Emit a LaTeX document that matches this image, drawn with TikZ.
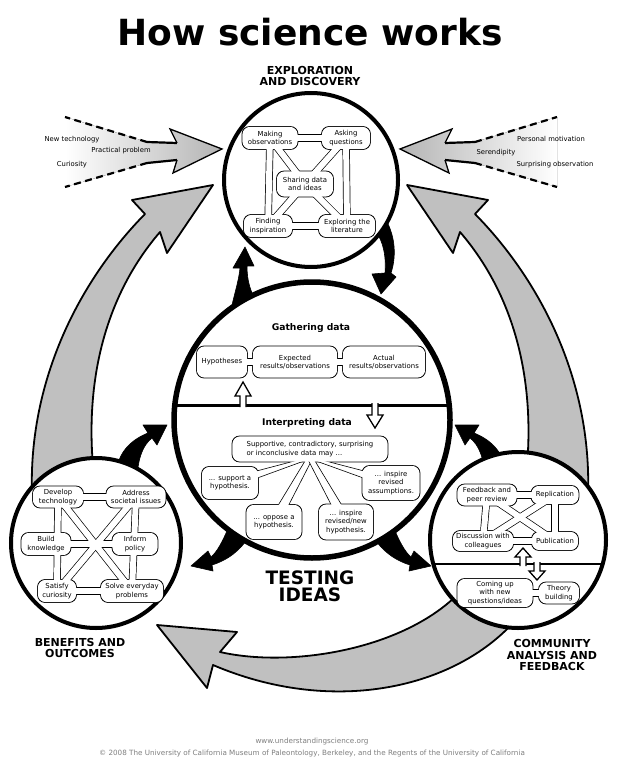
\documentclass[tikz,border=0pt]{standalone}
\usepackage{fontspec}
\setmainfont{DejaVu Sans}
\usepackage{tikz}
\definecolor{arrowgray}{HTML}{C0C0C0}
\definecolor{fadegray}{HTML}{B4B4B4}
\definecolor{footgray}{HTML}{7F7F7F}
\pgfdeclarelayer{back}
\pgfdeclarelayer{pipes}
\pgfsetlayers{back,pipes,main}
\newcommand{\hollowarrow}[4]{%
  \fill[white] (#1-3,#2) -- (#1-3,#3) -- (#1-8,#3) -- (#1,#4) -- (#1+8,#3) -- (#1+3,#3) -- (#1+3,#2) -- cycle;
  \draw[line width=1.3pt] (#1-3,#2) -- (#1-3,#3) -- (#1-8,#3) -- (#1,#4) -- (#1+8,#3) -- (#1+3,#3) -- (#1+3,#2);}
\newcommand{\boxlist}{mko,ask,shr,fin,exl,hyp,exp,act,sup,spt,opp,rnh,ras,dev,adr,bld,inf,sat,slv,fbk,rep,dis,pub,cmu,thb}
\newcommand{\pipelist}{mko/ask,fin/exl,mko/fin,ask/exl,mko/shr,ask/shr,fin/shr,exl/shr,hyp/exp,exp/act,dev/adr,sat/slv,bld/inf,dev/sat,adr/slv,dev/slv,adr/sat,fbk/rep,dis/pub,fbk/dis,rep/pub,fbk/pub,rep/dis,cmu/thb}

\begin{document}
\begin{tikzpicture}[x=1pt, y=-1pt,
    ring/.style={circle, draw, fill=white, inner sep=0pt},
    box/.style={inner sep=0pt, align=center, font=\fontsize{6.9}{8.2}\selectfont},
    tag/.style={inner sep=0pt, font=\fontsize{6.8}{8.2}\selectfont},
    head/.style={align=center, font=\fontsize{11}{11.5}\selectfont\bfseries},
    sub/.style={font=\fontsize{9.2}{10}\selectfont\bfseries},
    bigarrow/.style={fill=arrowgray, draw, line width=1.8pt, line join=round},
    blackarrow/.style={fill=black, draw, line width=0.6pt, line join=round},
    pipe/.style={line width=#1, line cap=butt}]
    \useasboundingbox (0,0) rectangle (624,775);

    % Title and section heads
    \node[anchor=base, font=\fontsize{36}{40}\selectfont\bfseries] (title) at (310,46) {How science works};
    \node[head] (exphead) at (310,76) {EXPLORATION\\AND DISCOVERY};
    \node[head] (benhead) at (80,648) {BENEFITS AND\\OUTCOMES};
    \node[head] (comhead) at (552,655) {COMMUNITY\\ANALYSIS AND\\FEEDBACK};
    \node[align=center, font=\fontsize{18.5}{17}\selectfont\bfseries] (testhead) at (310,586) {TESTING\\IDEAS};

    % Exploration and discovery
    \node[box, minimum width=55pt, minimum height=22pt] (mko) at (270,138) {Making\\observations};
    \node[box, minimum width=48pt, minimum height=22pt] (ask) at (346,138) {Asking\\questions};
    \node[box, minimum width=56pt, minimum height=25pt] (shr) at (305,184) {Sharing data\\and ideas};
    \node[box, minimum width=48pt, minimum height=22pt] (fin) at (268,226) {Finding\\inspiration};
    \node[box, minimum width=56pt, minimum height=22pt] (exl) at (347,226) {Exploring the\\literature};

    % Testing ideas
    \node[sub] (gather) at (311,328) {Gathering data};
    \node[box, minimum width=50pt, minimum height=31pt] (hyp) at (222,362) {Hypotheses};
    \node[box, minimum width=84pt, minimum height=31pt] (exp) at (295,362) {Expected\\results/observations};
    \node[box, minimum width=82pt, minimum height=31pt] (act) at (384,362) {Actual\\results/observations};
    \node[sub] (interp) at (307,423) {Interpreting data};
    \node[box, align=left, minimum width=155pt, minimum height=25pt] (sup) at (310,449) {Supportive, contradictory, surprising\\or inconclusive data may ...};
    \node[box, minimum width=56pt, minimum height=32pt] (spt) at (230,483) {... support a\\hypothesis.};
    \node[box, minimum width=55pt, minimum height=34pt] (opp) at (274,522) {... oppose a\\hypothesis.};
    \node[box, minimum width=54pt, minimum height=35pt] (rnh) at (346,522) {... inspire\\revised/new\\hypothesis.};
    \node[box, minimum width=57pt, minimum height=34pt] (ras) at (391,483) {... inspire\\revised\\assumptions.};

    % Benefits and outcomes
    \node[box, minimum width=50pt, minimum height=21pt] (dev) at (58,497) {Develop\\technology};
    \node[box, minimum width=59pt, minimum height=21pt] (adr) at (136,497) {Address\\societal issues};
    \node[box, minimum width=49pt, minimum height=22pt] (bld) at (46,544) {Build\\knowledge};
    \node[box, minimum width=45pt, minimum height=22pt] (inf) at (135,544) {Inform\\policy};
    \node[box, minimum width=38pt, minimum height=22pt] (sat) at (57,591) {Satisfy\\curiosity};
    \node[box, minimum width=62pt, minimum height=22pt] (slv) at (132,591) {Solve everyday\\problems};

    % Community analysis and feedback
    \node[box, minimum width=59pt, minimum height=21pt] (fbk) at (487,495) {Feedback and\\peer review};
    \node[box, minimum width=47pt, minimum height=18pt] (rep) at (555,495) {Replication};
    \node[box, minimum width=60pt, minimum height=20pt] (dis) at (483,541) {Discussion with\\colleagues};
    \node[box, minimum width=46pt, minimum height=18pt] (pub) at (555,541) {Publication};
    \node[box, minimum width=75pt, minimum height=28pt] (cmu) at (495,593) {Coming up\\with new\\questions/ideas};
    \node[box, minimum width=40pt, minimum height=21pt] (thb) at (559,593) {Theory\\building};

    % Side influences
    \node[tag] (newtech) at (72,140) {New technology};
    \node[tag] (practical) at (121,151) {Practical problem};
    \node[tag] (curiosity) at (72,165) {Curiosity};
    \node[tag] (personal) at (551,139) {Personal motivation};
    \node[tag] (serendip) at (496,153) {Serendipity};
    \node[tag] (surprise) at (555,165) {Surprising observation};

    % Footer
    \node[font=\fontsize{7.2}{8}\selectfont, text=footgray] (url) at (312,742) {www.understandingscience.org};
    \node[font=\fontsize{7.2}{8}\selectfont, text=footgray] (copy) at (312,754) {© 2008 The University of California Museum of Paleontology, Berkeley, and the Regents of the University of California};

    % Dividers with hollow arrows
    \draw[line width=3pt] (175,405) -- (449,405);
    \hollowarrow{243}{407}{396}{382}
    \hollowarrow{375}{403}{415}{428}
    \draw[line width=1.5pt] (433,564) -- (603,564);
    \hollowarrow{523}{566}{557}{548}
    \hollowarrow{537}{562}{571}{580}

    \begin{pgfonlayer}{back}
    \fill[white] (0,0) rectangle (624,775);
    % Big gray cycle arrows
    \draw[bigarrow] (32,495) .. controls (28,380) and (80,280) .. (145,214) -- (132,200) -- (213,185) -- (167,253) -- (160,232) .. controls (110,290) and (85,370) .. (93,466) -- cycle;
    \draw[bigarrow] (588,495) .. controls (592,380) and (540,280) .. (475,214) -- (488,200) -- (407,185) -- (453,253) -- (460,232) .. controls (510,290) and (535,370) .. (527,466) -- cycle;
    \draw[bigarrow] (456,596) .. controls (400,650) and (290,668) .. (220,652) -- (237,632) -- (157,625) -- (207,688) -- (213,665) .. controls (330,715) and (450,690) .. (512,624) -- cycle;

    % Shaded arrows into exploration
    \fill[left color=white, right color=fadegray] (65,117) -- (147,142) -- (177,143) -- (170,129) -- (222,149) -- (173,173) -- (177,160) -- (147,163) -- (65,187) -- cycle;
    \draw[line width=1.3pt, line join=miter] (177,143) -- (170,129) -- (222,149) -- (173,173) -- (177,160);
    \draw[line width=2.2pt] (147,142) -- (177,143) (177,160) -- (147,163);
    \draw[line width=2.2pt, dash pattern=on 7pt off 4.5pt] (147,142) -- (65,117) (147,163) -- (65,187);
    \fill[left color=fadegray, right color=white] (557,117) -- (475,142) -- (445,143) -- (452,129) -- (400,149) -- (449,173) -- (445,160) -- (475,163) -- (557,187) -- cycle;
    \draw[line width=1.3pt, line join=miter] (445,143) -- (452,129) -- (400,149) -- (449,173) -- (445,160);
    \draw[line width=2.2pt] (475,142) -- (445,143) (445,160) -- (475,163);
    \draw[line width=2.2pt, dash pattern=on 7pt off 4.5pt] (475,142) -- (557,117) (475,163) -- (557,187);

    % Black arrows between the circles
    \draw[blackarrow] (230,314) .. controls (234,295) and (239,280) .. (240,268) -- (233,268) -- (245,247) -- (254,266) -- (247,266) .. controls (247,280) and (250,292) .. (258,304) -- cycle;
    \draw[blackarrow] (375,230) .. controls (385,244) and (386,260) .. (385,273) -- (372,274) -- (381,294) -- (396,277) -- (391,273) .. controls (396,258) and (396,238) .. (386,220) -- cycle;
    \draw[blackarrow] (117,468) .. controls (120,450) and (133,439) .. (148,433) -- (143,425) -- (167,425) -- (157,445) -- (152,438) .. controls (143,445) and (138,458) .. (137,478) -- cycle;
    \draw[blackarrow] (505,468) .. controls (502,450) and (489,439) .. (474,433) -- (479,425) -- (455,425) -- (465,445) -- (470,438) .. controls (479,445) and (484,458) .. (485,478) -- cycle;
    \draw[blackarrow] (229,526) .. controls (223,541) and (217,552) .. (211,557) -- (208,551) -- (191,566) -- (213,571) -- (212,565) .. controls (228,560) and (241,550) .. (249,536) -- cycle;
    \draw[blackarrow] (393,526) .. controls (399,541) and (405,552) .. (411,557) -- (414,551) -- (431,566) -- (409,571) -- (410,565) .. controls (394,560) and (381,550) .. (373,536) -- cycle;

    % Circles
    \node[ring, line width=4pt, minimum size=174pt] (explore) at (311,180) {};
    \node[ring, line width=5.5pt, minimum size=276pt] (testing) at (312,420) {};
    \node[ring, line width=4pt, minimum size=170pt] (benefits) at (96,543) {};
    \node[ring, line width=4pt, minimum size=176pt] (community) at (518,540) {};
    \end{pgfonlayer}

    \begin{pgfonlayer}{pipes}
    % Outer edges of boxes and pipes
    \foreach \bx in \boxlist
        \fill[rounded corners=8pt] ([shift={(-0.7pt,0.7pt)}]\bx.north west) rectangle ([shift={(0.7pt,-0.7pt)}]\bx.south east);
    \foreach \pa/\pb in \pipelist
        \draw[pipe=7.4pt] (\pa.center) -- (\pb.center);

    % Wedges from the data box
    \foreach \c/\ax/\ay/\bx/\by in {spt/0pt/5pt/0pt/-5pt, opp/-6pt/0pt/6pt/0pt, rnh/-6pt/0pt/6pt/0pt, ras/0pt/-5pt/0pt/5pt}
        \filldraw[fill=white, line width=0.6pt] ([xshift=-3pt, yshift=4pt]sup.south) -- ([xshift=\ax, yshift=\ay]\c.center) -- ([xshift=\bx, yshift=\by]\c.center) -- ([xshift=3pt, yshift=4pt]sup.south) -- cycle;

    % Inner white of boxes and pipes
    \foreach \bx in \boxlist
        \fill[white, rounded corners=8pt] (\bx.north west) rectangle (\bx.south east);
    \foreach \pa/\pb in \pipelist
        \draw[pipe=6pt, white] (\pa.center) -- (\pb.center);
    \end{pgfonlayer}

\end{tikzpicture}
\end{document}
